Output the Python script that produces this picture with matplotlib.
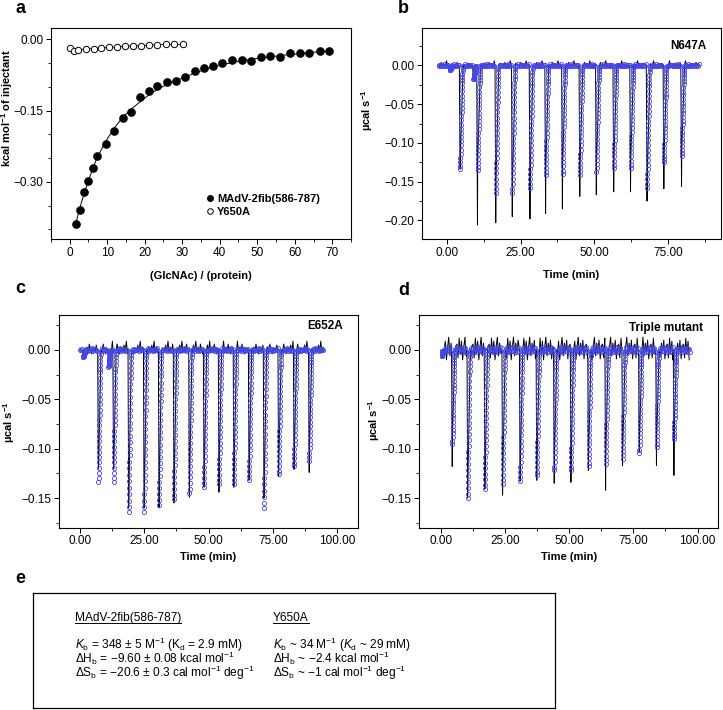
import numpy as np
import matplotlib
matplotlib.use('Agg')
import matplotlib.pyplot as plt
from matplotlib import font_manager
from matplotlib.ticker import MultipleLocator, FuncFormatter

# ---------------- data ----------------
# a: integrated heats vs molar ratio
ratio_wt = [1.6, 2.65, 3.8, 4.95, 6.1, 7.25, 9.55, 11.85, 14.1, 16.4, 18.8, 21.1, 23.4, 25.9, 28.3, 30.8,
            33.3, 35.8, 38.3, 40.7, 43.3, 45.8, 48.3, 50.9, 53.5, 56.0, 58.7, 61.3, 63.8, 66.6, 69.2]
heat_wt = [-0.388, -0.358, -0.322, -0.299, -0.271, -0.245, -0.220, -0.193, -0.166, -0.153, -0.122,
           -0.108, -0.099, -0.090, -0.087, -0.079, -0.067, -0.060, -0.055, -0.050, -0.044,
           -0.044, -0.045, -0.038, -0.035, -0.038, -0.028, -0.029, -0.029, -0.024, -0.024]
fit_wt = [-0.388, -0.356, -0.325, -0.298, -0.273, -0.250, -0.215, -0.187, -0.164, -0.147, -0.131,
          -0.117, -0.105, -0.095, -0.087, -0.079, -0.071, -0.064, -0.058, -0.053, -0.049,
          -0.045, -0.042, -0.039, -0.037, -0.034, -0.032, -0.030, -0.028, -0.026, -0.025]
ratio_y650a = [0.0, 1.24, 2.1, 4.4, 6.4, 8.4, 10.5, 12.6, 14.7, 16.8, 18.9, 21.1, 23.4, 25.7, 27.9, 30.2]
heat_y650a = [-0.019, -0.024, -0.022, -0.020, -0.0196, -0.018, -0.0168, -0.016, -0.0147, -0.014,
              -0.0133, -0.012, -0.011, -0.0105, -0.0105, -0.0105]

# b: N647A raw thermogram
inj_b = [4.5, 10.4, 16.6, 22.2, 28.2, 33.5, 39.2, 45.1, 50.7, 56.6, 62.3, 67.9, 73.6, 79.6]
fit_b = [-0.134, -0.135, -0.164, -0.164, -0.158, -0.142, -0.140, -0.141, -0.137, -0.132, -0.132, -0.158, -0.125, -0.117]
raw_b = [-0.134, -0.206, -0.203, -0.195, -0.198, -0.191, -0.185, -0.169, -0.167, -0.163, -0.163, -0.175, -0.159, -0.156]
dip_t_b = [1.0, 9.0]
dip_d_b = [-0.006, -0.018]
wiggle_b = [0.001, -0.002, 0.004, -0.001, 0.002, -0.003, 0.006, -0.001, 0.001, -0.004, 0.003, 0.0]

# c: E652A raw thermogram
inj_c = [7.1, 13.0, 18.9, 24.9, 30.7, 36.5, 42.5, 48.2, 54.0, 59.8, 65.7, 71.5, 77.2, 83.2, 89.1]
fit_c = [-0.134, -0.134, -0.164, -0.164, -0.157, -0.151, -0.145, -0.139, -0.136, -0.136, -0.132, -0.160, -0.126, -0.118, -0.112]
raw_c = [-0.118, -0.115, -0.160, -0.160, -0.160, -0.155, -0.149, -0.139, -0.144, -0.139, -0.132, -0.150, -0.128, -0.121, -0.124]
dip_t_c = [1.2, 11.0]
dip_d_c = [-0.007, -0.017]
wiggle_c = [0.002, -0.002, 0.005, -0.001, 0.009, -0.003, 0.003, -0.002, 0.006, 0.0, -0.004, 0.002]

# d: triple mutant raw thermogram
inj_d = [4.5, 10.5, 17.2, 24.1, 30.9, 37.4, 44.2, 50.7, 57.5, 64.2, 70.8, 77.3, 84.0, 90.8]
fit_d = [-0.095, -0.150, -0.141, -0.136, -0.133, -0.127, -0.122, -0.122, -0.118, -0.115, -0.110, -0.104, -0.098, -0.090]
raw_d = [-0.118, -0.150, -0.141, -0.147, -0.133, -0.132, -0.135, -0.134, -0.122, -0.142, -0.117, -0.104, -0.117, -0.127]
dip_t_d = [0.3]
dip_d_d = [-0.006]
wiggle_d = [0.006, -0.008, 0.012, -0.004, 0.009, -0.010, 0.003, 0.013, -0.006, 0.007, -0.003, 0.010, -0.009, 0.004]

# shape of one fitted injection peak (fraction of peak depth, sample by sample)
peak_profile = [1.00, 0.97, 0.93, 0.89, 0.85, 0.81, 0.77, 0.73, 0.69, 0.65, 0.61, 0.57, 0.53, 0.49,
                0.45, 0.41, 0.37, 0.33, 0.29, 0.25, 0.21, 0.17, 0.14, 0.11, 0.08, 0.05, 0.03, 0.01]

# e: thermodynamic parameters
head1 = "MAdV-2fib(586-787)"
body1 = [r"$K_\mathrm{b}$ = 348 ± 5 M$^{-1}$ (K$_\mathrm{d}$ = 2.9 mM)",
         r"ΔH$_\mathrm{b}$ = −9.60 ± 0.08 kcal mol$^{-1}$",
         r"ΔS$_\mathrm{b}$ = −20.6 ± 0.3 cal mol$^{-1}$ deg$^{-1}$"]
head2 = "Y650A"
body2 = [r"$K_\mathrm{b}$ ~ 34 M$^{-1}$ ($K_\mathrm{d}$ ~ 29 mM)",
         r"ΔH$_\mathrm{b}$ ~ −2.4 kcal mol$^{-1}$",
         r"ΔS$_\mathrm{b}$ ~ −1 cal mol$^{-1}$ deg$^{-1}$"]

# ---------------- style ----------------
installed = {f.name for f in font_manager.fontManager.ttflist}
narrow = 'Liberation Sans Narrow' if 'Liberation Sans Narrow' in installed else 'Liberation Sans'
box_size = 9.5 if narrow == 'Liberation Sans Narrow' else 8.6
plt.rcParams['font.family'] = ['Liberation Sans', 'DejaVu Sans']
plt.rcParams['mathtext.fontset'] = 'custom'
plt.rcParams['mathtext.rm'] = narrow
plt.rcParams['mathtext.it'] = narrow + ':italic'
plt.rcParams['mathtext.bf'] = narrow + ':bold'

BLUE = '#4646e6'


def fmt2(v, _):
    if abs(v) < 1e-9:
        return '0.00'
    return f'{v:.2f}'.replace('-', '\u2212')


def style_axes(ax):
    for s in ax.spines.values():
        s.set_linewidth(0.8)
    ax.tick_params(which='both', direction='out', top=False, right=False, labelsize=8.5, pad=2)
    ax.tick_params(which='major', length=3.5, width=0.7)
    ax.tick_params(which='minor', length=2, width=0.6)
    ax.yaxis.set_major_formatter(FuncFormatter(fmt2))


def draw_itc(ax, t_start, t_end, inj, fit, raw, dip_t, dip_d, wiggle):
    times = list(inj) + list(dip_t)
    fits = list(fit) + list(dip_d)
    raws = list(raw) + list(dip_d)
    windows = [(t - 0.3, t + 1.1) for t in times]

    def outside(x):
        return not any(a <= x <= b for a, b in windows)

    # raw (black) trace
    grid = np.arange(t_start, t_end, 0.45)
    wig = np.resize(wiggle, len(grid))
    pts = [(x, y) for x, y in zip(grid, wig) if outside(x)]
    for t, fd, rd in zip(times, fits, raws):
        pts += [(t - 0.25, 0.0), (t, rd), (t + 0.1, fd * 0.9), (t + 1.05, 0.0)]
    pts.sort()
    xs, ys = zip(*pts)
    ax.plot(xs, ys, color='black', lw=0.7, zorder=2)

    # fitted points (blue circles)
    grid2 = np.arange(t_start, t_end, 0.3)
    wig2 = np.resize(np.array(wiggle) * 0.25, len(grid2))
    bx = [x for x in grid2 if outside(x)]
    by = [y for x, y in zip(grid2, wig2) if outside(x)]
    ax.plot(bx, by, ls='none', marker='o', ms=2.9, mec=BLUE, mfc='none', mew=0.6, zorder=3)
    px, py = [], []
    for t, d in zip(times, fits):
        for k, f in enumerate(peak_profile):
            px.append(t + 0.05 + k * 0.032)
            py.append(d * f)
    ax.plot(px, py, ls='none', marker='o', ms=3.0, mec=BLUE, mfc='none', mew=0.6, zorder=3)


fig = plt.figure(figsize=(7.23, 7.10), dpi=100)

# ---- a ----
ax_a = fig.add_axes([0.0705, 0.6634, 0.415, 0.2972])
ax_a.plot(ratio_wt, fit_wt, color='black', lw=0.7, zorder=2)
ax_a.plot(ratio_wt, heat_wt, ls='none', marker='o', ms=5.2, color='black',
          label='MAdV-2fib(586-787)', zorder=3)
ax_a.plot(ratio_y650a, heat_y650a, color='black', lw=0.6, marker='o', ms=4.6, mfc='white',
          mec='black', mew=0.7, label='Y650A', zorder=3)
ax_a.set_xlim(-5, 75)
ax_a.set_ylim(-0.42, 0.024)
ax_a.xaxis.set_major_locator(MultipleLocator(10))
ax_a.xaxis.set_minor_locator(MultipleLocator(5))
ax_a.yaxis.set_major_locator(MultipleLocator(0.15))
ax_a.yaxis.set_minor_locator(MultipleLocator(0.05))
style_axes(ax_a)
ax_a.set_xlabel('(GlcNAc) / (protein)', fontsize=8, fontweight='bold')
ax_a.set_ylabel('kcal mol$^{\\mathbf{-1}}$ of injectant', fontsize=8, fontweight='bold')
ax_a.xaxis.set_label_coords(0.5, -0.15)
ax_a.yaxis.set_label_coords(-0.121, 0.62)
leg = ax_a.legend(loc='upper left', bbox_to_anchor=(0.5, 0.24), frameon=False, borderpad=0,
                  handlelength=0.6, handletextpad=0.35, labelspacing=0.3,
                  prop={'size': 8, 'weight': 'bold'})
for h in leg.legend_handles:
    h.set_linestyle('none')
    h.set_markersize(4)

# ---- b ----
ax_b = fig.add_axes([0.5837, 0.6634, 0.4136, 0.2968])
draw_itc(ax_b, -2.8, 85.5, inj_b, fit_b, raw_b, dip_t_b, dip_d_b, wiggle_b)
ax_b.set_xlim(-8.4, 93)
ax_b.set_ylim(-0.224, 0.048)
ax_b.text(0.95, 0.915, 'N647A', transform=ax_b.transAxes, ha='right', va='center',
          fontsize=8.5, fontweight='bold')

# ---- c ----
ax_c = fig.add_axes([0.0812, 0.2568, 0.4144, 0.2996])
draw_itc(ax_c, 0.0, 94.6, inj_c, fit_c, raw_c, dip_t_c, dip_d_c, wiggle_c)
ax_c.set_xlim(-8.3, 108.2)
ax_c.set_ylim(-0.180, 0.0355)
ax_c.text(0.95, 0.95, 'E652A', transform=ax_c.transAxes, ha='right', va='center',
          fontsize=8.5, fontweight='bold')

# ---- d ----
ax_d = fig.add_axes([0.5800, 0.2568, 0.4136, 0.2996])
draw_itc(ax_d, 0.0, 97.0, inj_d, fit_d, raw_d, dip_t_d, dip_d_d, wiggle_d)
ax_d.set_xlim(-8.3, 108.1)
ax_d.set_ylim(-0.180, 0.0355)
ax_d.text(0.95, 0.94, 'Triple mutant', transform=ax_d.transAxes, ha='right', va='center',
          fontsize=8.5, fontweight='bold')

for ax, ylab_x, ylab_y, xlab_y in [(ax_b, -0.157, 0.611, -0.145),
                                   (ax_c, -0.140, 0.498, -0.115),
                                   (ax_d, -0.126, 0.507, -0.115)]:
    ax.xaxis.set_major_locator(MultipleLocator(25))
    ax.xaxis.set_minor_locator(MultipleLocator(12.5))
    ax.yaxis.set_major_locator(MultipleLocator(0.05))
    ax.yaxis.set_minor_locator(MultipleLocator(0.025))
    style_axes(ax)
    ax.xaxis.set_major_formatter(FuncFormatter(lambda v, _: f'{v:.2f}'))
    ax.set_xlabel('Time (min)', fontsize=8, fontweight='bold')
    ax.set_ylabel('µcal s$^{\\mathbf{-1}}$', fontsize=8, fontweight='bold')
    ax.xaxis.set_label_coords(0.5, xlab_y)
    ax.yaxis.set_label_coords(ylab_x, ylab_y)

# ---- e ----
ax_e = fig.add_axes([0.0456, 0.0028, 0.722, 0.1624])
ax_e.set_xticks([])
ax_e.set_yticks([])
for s in ax_e.spines.values():
    s.set_linewidth(0.9)
heads = []
for x0, head, body in [(0.0805, head1, body1), (0.46, head2, body2)]:
    heads.append(ax_e.text(x0, 0.757, head, transform=ax_e.transAxes, ha='left', va='baseline',
                           fontsize=box_size, family=[narrow, 'DejaVu Sans']))
    ax_e.text(x0, 0.625, '\n'.join(body), transform=ax_e.transAxes, ha='left', va='top',
              fontsize=box_size, family=[narrow, 'DejaVu Sans'], linespacing=0.7)

# underline the two headings
fig.canvas.draw()
inv = ax_e.transAxes.inverted()
for t in heads:
    bb = t.get_window_extent()
    (x_a, _), (x_b, _) = inv.transform([(bb.x0, bb.y0), (bb.x1, bb.y0)])
    ax_e.plot([x_a, x_b], [0.735, 0.735], color='black', lw=0.7, transform=ax_e.transAxes)

# panel letters
for letter, px, py in [('a', 15, 13), ('b', 398, 13), ('c', 15, 293), ('d', 398, 295), ('e', 15, 583)]:
    fig.text(px / 723, 1 - py / 710, letter, fontsize=13, fontweight='bold', va='baseline', ha='left')

fig.savefig('out.png', dpi=100)
